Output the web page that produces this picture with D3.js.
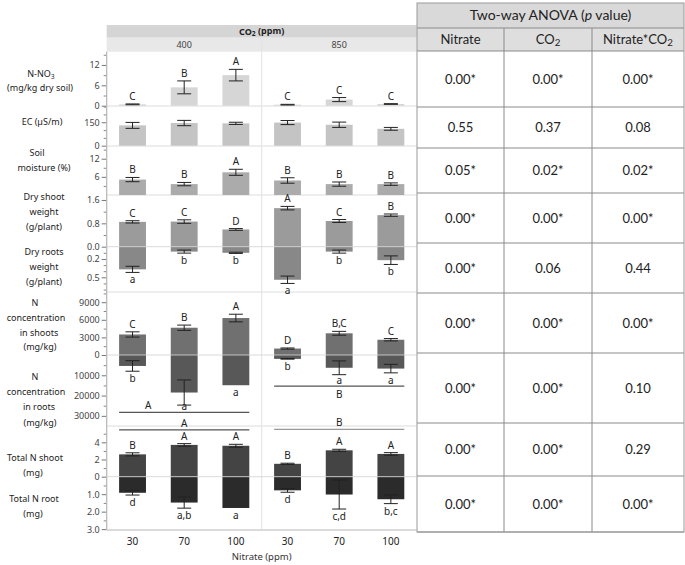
<!DOCTYPE html>
<html>
<head>
<meta charset="utf-8">
<script src="https://cdn.jsdelivr.net/npm/d3@7"></script>
<style>
  body { margin: 0; background: #fff; }
  svg { display: block; }
</style>
</head>
<body>
<svg id="chart" width="685" height="565"></svg>
<script>
/* global d3 */

// ---- data ----
const nitrate = ['30', '70', '100'];
const co2 = ['400', '850'];
const cells = co2.flatMap(c => nitrate.map(n => `${c}-${n}`));

const nno3Mean = [0.4, 5.4, 9.0, 0.3, 1.8, 0.5];
const nno3Err = [0.12, 1.9, 1.7, 0.1, 0.6, 0.1];
const nno3Letters = ['C', 'B', 'A', 'C', 'C', 'C'];

const ecMean = [130, 145, 143, 148, 134, 108];
const ecErr = [19, 17, 7, 13, 17, 9];

const soilMean = [5.1, 3.6, 7.5, 4.8, 3.6, 3.6];
const soilErr = [0.7, 0.55, 1.0, 0.9, 0.7, 0.4];
const soilLetters = ['B', 'B', 'A', 'B', 'B', 'B'];

const shootWtMean = [0.85, 0.86, 0.59, 1.32, 0.88, 1.08];
const shootWtErr = [0.04, 0.06, 0.03, 0.06, 0.05, 0.04];
const shootWtLetters = ['C', 'C', 'D', 'A', 'C', 'B'];
const rootWtMean = [0.37, 0.08, 0.10, 0.54, 0.08, 0.22];
const rootWtErr = [0.05, 0.025, 0.01, 0.06, 0.025, 0.07];
const rootWtLetters = ['a', 'b', 'b', 'a', 'b', 'b'];

const nShootMean = [3500, 4650, 6300, 1100, 3700, 2600];
const nShootErr = [450, 450, 650, 100, 330, 200];
const nShootLetters = ['C', 'B', 'A', 'D', 'B,C', 'C'];
const nRootMean = [5400, 18500, 14900, 1900, 6300, 6700];
const nRootErr = [2600, 6200, 0, 150, 3400, 2100];
const nRootLetters = ['b', 'a', 'a', 'b', 'a', 'a'];

const totShootMean = [2.6, 3.7, 3.6, 1.5, 3.07, 2.65];
const totShootErr = [0.18, 0.15, 0.17, 0.07, 0.12, 0.15];
const totShootLetters = ['B', 'A', 'A', 'B', 'A', 'A'];
const totRootMean = [0.92, 1.48, 1.79, 0.78, 1.02, 1.29];
const totRootErr = [0.13, 0.32, 0, 0.11, 0.83, 0.25];
const totRootLetters = ['d', 'a,b', 'a', 'd', 'c,d', 'b,c'];

// letters for the CO2 groups (value on the panel's own scale)
const nRootGroupLine = [28300, 15300];
const nRootGroupLetter = ['A', 'B'];
const totGroupLine = [5.45, 5.5];
const totGroupLetter = ['A', 'B'];

// two-way ANOVA table
const anovaCols = ['Nitrate', 'CO_2', 'Nitrate*CO_2'];
const anovaRows = [
  ['0.00*', '0.00*', '0.00*'],
  ['0.55', '0.37', '0.08'],
  ['0.05*', '0.02*', '0.02*'],
  ['0.00*', '0.00*', '0.00*'],
  ['0.00*', '0.06', '0.44'],
  ['0.00*', '0.00*', '0.00*'],
  ['0.00*', '0.00*', '0.10'],
  ['0.00*', '0.00*', '0.29'],
  ['0.00*', '0.00*', '0.00*']
];

// ---- layout ----
const FONT = '"Noto Sans", sans-serif';
const TFONT = 'Lato, sans-serif';
const plotL = 106.7, plotR = 416.7, plotB = 530;
const svg = d3.select('#chart');

const x = d3.scaleBand().domain(cells).range([plotL, plotR])
  .paddingInner(0.48).paddingOuter(0.24);
const cx = c => x(c) + x.bandwidth() / 2;
const midX = (plotL + plotR) / 2;

function rich(sel, str) {
  // "_2" -> subscript 2
  let shifted = false;
  str.split(/(_\d)/).forEach(part => {
    if (!part) return;
    if (part[0] === '_') {
      sel.append('tspan').attr('dy', '0.22em').attr('font-size', '75%').text(part.slice(1));
      shifted = true;
    } else {
      const t = sel.append('tspan').text(part);
      if (shifted) { t.attr('dy', '-0.22em'); shifted = false; }
    }
  });
}

// header bands
svg.append('rect').attr('x', plotL).attr('y', 25).attr('width', plotR - plotL).attr('height', 12.7).attr('fill', '#d5d5d5');
svg.append('rect').attr('x', plotL).attr('y', 37.7).attr('width', plotR - plotL).attr('height', 14).attr('fill', '#e8e8e8');
const hdr = svg.append('text').attr('x', midX).attr('y', 34.5).attr('text-anchor', 'middle')
  .attr('font-family', FONT).attr('font-size', 9).attr('font-weight', 'bold').attr('fill', '#222');
rich(hdr, 'CO_2 (ppm)');
co2.forEach(c => {
  const a = cx(`${c}-${nitrate[0]}`), b = cx(`${c}-${nitrate[2]}`);
  svg.append('text').attr('x', (a + b) / 2).attr('y', 48).attr('text-anchor', 'middle')
    .attr('font-family', FONT).attr('font-size', 9).attr('fill', '#444').text(c);
});

// panels: top/bottom pixel bounds, zero line, and up/down scales
const panels = {
  nno3: { top: 51.7, bottom: 106, zero: 105.7, up: [0, 15.9] },
  ec: { top: 106, bottom: 146, zero: 145.7, up: [0, 254] },
  soil: { top: 146, bottom: 195, zero: 195, up: [0, 16.2] },
  dry: { top: 195, bottom: 292, zero: 246.7, up: [0, 1.77], down: [0, 0.74] },
  nconc: { top: 292, bottom: 426, zero: 355, up: [0, 10740], down: [0, 35000] },
  tot: { top: 426, bottom: 530, zero: 476.7, up: [0, 5.9], down: [0, 3.05] }
};
Object.values(panels).forEach(p => {
  p.yUp = d3.scaleLinear().domain(p.up).range([p.zero, p.top]);
  if (p.down) p.yDown = d3.scaleLinear().domain(p.down).range([p.zero, p.bottom]);
});
const P = panels;

// grid: panel separators and group divider
const grid = svg.append('g');
Object.values(panels).forEach(p => {
  grid.append('line').attr('x1', plotL).attr('x2', plotR).attr('y1', p.bottom).attr('y2', p.bottom)
    .attr('stroke', '#dcdcdc');
});
const divX = (x(cells[2]) + x.bandwidth() + x(cells[3])) / 2;
grid.append('line').attr('x1', divX).attr('x2', divX).attr('y1', 37.7).attr('y2', plotB)
  .attr('stroke', '#e2e2e2');

// y axes
function yAxis(scale, ticks, minor, fmt) {
  const g = svg.append('g').attr('transform', `translate(${plotL},0)`);
  g.call(d3.axisLeft(scale).tickValues(ticks).tickFormat(fmt).tickSize(5).tickPadding(2));
  g.select('.domain').remove();
  g.selectAll('.tick line').attr('stroke', '#777');
  g.selectAll('.tick text').attr('font-family', FONT).attr('font-size', 9).attr('fill', '#444');
  const gm = svg.append('g').attr('transform', `translate(${plotL},0)`);
  gm.call(d3.axisLeft(scale).tickValues(minor).tickFormat('').tickSize(3));
  gm.select('.domain').remove();
  gm.selectAll('.tick line').attr('stroke', '#888');
}
yAxis(P.nno3.yUp, [0, 6, 12], [3, 9, 15], d3.format('d'));
yAxis(P.ec.yUp, [0, 150], [50, 100, 200, 250], d3.format('d'));
yAxis(P.soil.yUp, [6, 12], [3, 9, 15], d3.format('d'));
yAxis(P.dry.yUp, [0, 0.8, 1.6], [0.4, 1.2], d3.format('.1f'));
yAxis(P.dry.yDown, [0.2, 0.5], [0.1, 0.3, 0.4, 0.6, 0.7], d3.format('.1f'));
yAxis(P.nconc.yUp, [0, 3000, 6000, 9000], [1500, 4500, 7500, 10500], d3.format('d'));
yAxis(P.nconc.yDown, [10000, 20000, 30000], [5000, 15000, 25000], d3.format('d'));
yAxis(P.tot.yUp, [0, 2, 4], [1, 3, 5], d3.format('d'));
yAxis(P.tot.yDown, [1, 2, 3], [0.5, 1.5, 2.5], d3.format('.1f'));

svg.append('line').attr('x1', plotL).attr('x2', plotL).attr('y1', 51.7).attr('y2', plotB)
  .attr('stroke', '#b5b5b5').attr('stroke-width', 1.2);
svg.append('line').attr('x1', plotL).attr('x2', plotR).attr('y1', plotB).attr('y2', plotB)
  .attr('stroke', '#c8c8c8');

// bars with error bars and letters
function bars(panel, dir, means, errs, letters, color, maxY) {
  const s = dir === 'up' ? panel.yUp : panel.yDown;
  const data = cells.map((c, i) => ({ c, i, m: means[i], e: errs[i], l: letters ? letters[i] : null }));
  const g = svg.append('g');
  g.selectAll('rect').data(data).enter().append('rect')
    .attr('x', d => x(d.c))
    .attr('y', d => Math.min(s(d.m), panel.zero))
    .attr('width', x.bandwidth())
    .attr('height', d => Math.abs(s(d.m) - panel.zero))
    .attr('fill', color);
  const eb = g.selectAll('g.err').data(data.filter(d => d.e > 0)).enter().append('g').attr('class', 'err')
    .attr('stroke', '#222').attr('stroke-width', 1);
  eb.append('line').attr('x1', d => cx(d.c)).attr('x2', d => cx(d.c))
    .attr('y1', d => s(d.m - d.e)).attr('y2', d => s(d.m + d.e));
  [-1, 1].forEach(k => {
    eb.append('line').attr('x1', d => cx(d.c) - 7).attr('x2', d => cx(d.c) + 7)
      .attr('y1', d => s(d.m + k * d.e)).attr('y2', d => s(d.m + k * d.e));
  });
  if (letters) {
    g.selectAll('text').data(data).enter().append('text')
      .attr('x', d => cx(d.c))
      .attr('y', d => {
        if (dir === 'up') return s(d.m + d.e) - 4;
        const y = s(d.m + d.e) + 11;
        return maxY ? Math.min(y, maxY(d.i)) : y;
      })
      .attr('text-anchor', 'middle')
      .attr('font-family', FONT).attr('font-size', 10).attr('fill', '#222')
      .text(d => d.l);
  }
}
bars(P.nno3, 'up', nno3Mean, nno3Err, nno3Letters, '#d6d6d6');
bars(P.ec, 'up', ecMean, ecErr, null, '#c4c4c4');
bars(P.soil, 'up', soilMean, soilErr, soilLetters, '#ababab');
bars(P.dry, 'up', shootWtMean, shootWtErr, shootWtLetters, '#9b9b9b');
bars(P.dry, 'down', rootWtMean, rootWtErr, rootWtLetters, '#888888');
bars(P.nconc, 'up', nShootMean, nShootErr, nShootLetters, '#707070');
// root letters stay above their CO2 group line
bars(P.nconc, 'down', nRootMean, nRootErr, nRootLetters, '#585858',
  i => P.nconc.yDown(nRootGroupLine[Math.floor(i / 3)]) - 2);
bars(P.tot, 'up', totShootMean, totShootErr, totShootLetters, '#444444');
bars(P.tot, 'down', totRootMean, totRootErr, totRootLetters, '#2b2b2b');

// zero lines drawn over the split bars
[P.dry, P.nconc, P.tot].forEach(p => {
  svg.append('line').attr('x1', plotL).attr('x2', plotR).attr('y1', p.zero).attr('y2', p.zero)
    .attr('stroke', '#d4d4d4').attr('stroke-opacity', 0.85);
});

// CO2 group lines
function groupLines(scale, vals, labels, sides, labelShift, colors) {
  co2.forEach((c, i) => {
    const x1 = x(`${c}-${nitrate[0]}`), x2 = x(`${c}-${nitrate[2]}`) + x.bandwidth();
    const y = scale(vals[i]);
    svg.append('line').attr('x1', x1).attr('x2', x2).attr('y1', y).attr('y2', y)
      .attr('stroke', colors[i]).attr('stroke-width', 1.2);
    svg.append('text').attr('x', (x1 + x2) / 2 + labelShift[i]).attr('y', sides[i] === 'above' ? y - 3 : y + 12)
      .attr('text-anchor', 'middle').attr('font-family', FONT).attr('font-size', 10).attr('fill', '#222')
      .text(labels[i]);
  });
}
groupLines(P.nconc.yDown, nRootGroupLine, nRootGroupLetter, ['above', 'below'], [-36, 0], ['#555', '#555']);
groupLines(P.tot.yUp, totGroupLine, totGroupLetter, ['above', 'above'], [0, 0], ['#555', '#999']);

// row labels
const rowLabels = [
  ['N-NO_3', 41, 74], ['(mg/kg dry soil)', 40, 88],
  ['EC (µS/m)', 42, 122],
  ['Soil', 37, 153], ['moisture (%)', 44, 168],
  ['Dry shoot', 44, 197], ['weight', 44, 212], ['(g/plant)', 44, 227],
  ['Dry roots', 44, 252], ['weight', 44, 267], ['(g/plant)', 44, 282],
  ['N', 35, 303], ['concentration', 36, 318], ['in shoots', 39, 333], ['(mg/kg)', 40, 347],
  ['N', 35, 377], ['concentration', 36, 392], ['in roots', 39, 407], ['(mg/kg)', 40, 423],
  ['Total N shoot', 35, 458], ['(mg)', 33, 473],
  ['Total N root', 34, 499], ['(mg)', 33, 514]
];
rowLabels.forEach(([t, lx, ly]) => {
  const el = svg.append('text').attr('x', lx).attr('y', ly).attr('dy', '0.35em').attr('text-anchor', 'middle')
    .attr('font-family', FONT).attr('font-size', 9).attr('fill', '#222');
  rich(el, t);
});

// x axis labels
cells.forEach((c, i) => {
  svg.append('text').attr('x', cx(c)).attr('y', 545).attr('text-anchor', 'middle')
    .attr('font-family', FONT).attr('font-size', 10).attr('fill', '#222').text(nitrate[i % 3]);
});
svg.append('text').attr('x', midX).attr('y', 560).attr('text-anchor', 'middle')
  .attr('font-family', FONT).attr('font-size', 9.5).attr('fill', '#333').text('Nitrate (ppm)');

// ---- ANOVA table ----
const tL = 417, tR = 684;
const colX = [417, 504, 592, 684];
const rowY = [51, 107, 148, 193, 243, 293, 353, 423, 476, 532];
const tbl = svg.append('g');
tbl.append('rect').attr('x', tL).attr('y', 3).attr('width', tR - tL).attr('height', 25).attr('fill', '#d9d9d9');
tbl.append('rect').attr('x', tL).attr('y', 28).attr('width', tR - tL).attr('height', 23).attr('fill', '#dedede');
const title = tbl.append('text').attr('x', (tL + tR) / 2).attr('y', 20).attr('text-anchor', 'middle')
  .attr('font-family', TFONT).attr('font-size', 14).attr('fill', '#222');
title.append('tspan').text('Two-way ANOVA (');
title.append('tspan').attr('font-style', 'italic').text('p');
title.append('tspan').text(' value)');
anovaCols.forEach((h, j) => {
  const el = tbl.append('text').attr('x', (colX[j] + colX[j + 1]) / 2).attr('y', 44)
    .attr('text-anchor', 'middle').attr('font-family', TFONT).attr('font-size', 13).attr('fill', '#222');
  rich(el, h);
});
anovaRows.forEach((r, i) => {
  r.forEach((v, j) => {
    tbl.append('text').attr('x', (colX[j] + colX[j + 1]) / 2).attr('y', (rowY[i] + rowY[i + 1]) / 2)
      .attr('dy', '0.35em').attr('text-anchor', 'middle').attr('font-family', TFONT).attr('font-size', 13)
      .attr('fill', '#222').text(v);
  });
});
[28, ...rowY].forEach(y => {
  tbl.append('line').attr('x1', tL).attr('x2', tR).attr('y1', y).attr('y2', y).attr('stroke', '#8a8a8a');
});
colX.slice(1, 3).forEach(xx => {
  tbl.append('line').attr('x1', xx).attr('x2', xx).attr('y1', 28).attr('y2', 532).attr('stroke', '#8a8a8a');
});
tbl.append('rect').attr('x', tL).attr('y', 3).attr('width', tR - tL).attr('height', 529)
  .attr('fill', 'none').attr('stroke', '#9a9a9a');
</script>
</body>
</html>
